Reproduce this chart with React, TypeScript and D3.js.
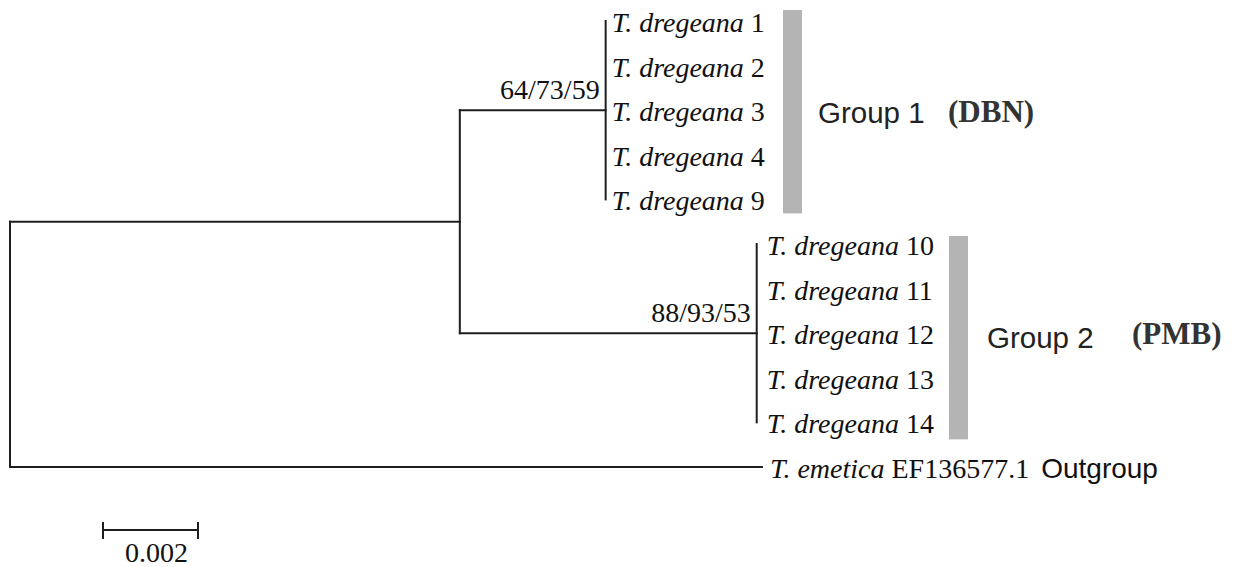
import * as d3 from "d3";
import React from "react";

// tips, top to bottom
const group1Tips = ["1", "2", "3", "4", "9"];
const group2Tips = ["10", "11", "12", "13", "14"];
const outgroupTip = "EF136577.1";

// branch lengths (substitutions/site)
const ingroupLength = 0.00947;
const group1Length = 0.00307;
const group2Length = 0.00625;
const outgroupLength = 0.01583;

const supportLabels = ["64/73/59", "88/93/53"];
const groupNames = ["Group 1", "Group 2"];
const regionNames = ["(DBN)", "(PMB)"];
const scaleBarValue = 0.002;

const width = 1236;
const height = 567;
const serif = "'Liberation Serif', 'Times New Roman', serif";
const sans = "'Liberation Sans', Arial, sans-serif";
const stroke = "#1e1e1e";

export default function App() {
  const ref = React.useRef<SVGSVGElement | null>(null);

  React.useEffect(() => {
    if (!ref.current) return;
    const svg = d3.select(ref.current);
    svg.selectAll("*").remove();

    const allTips = [...group1Tips, ...group2Tips, outgroupTip];
    const y = d3.scalePoint<string>().domain(allTips).range([21, 467]);
    const x = d3.scaleLinear().domain([0, 0.016]).range([10, 770]);

    const xRoot = x(0);
    const xIn = x(ingroupLength);
    const xG1 = x(ingroupLength + group1Length);
    const xG2 = x(ingroupLength + group2Length);
    const xOut = x(outgroupLength);

    const yG1 = d3.mean(group1Tips, (t) => y(t)!)!;
    const yG2 = d3.mean(group2Tips, (t) => y(t)!)!;
    const yIn = (yG1 + yG2) / 2;
    const yOut = y(outgroupTip)!;

    const segs: [number, number, number, number][] = [
      [xRoot, yIn, xRoot, yOut],
      [xRoot, yIn, xIn, yIn],
      [xRoot, yOut, xOut, yOut],
      [xIn, yG1, xIn, yG2],
      [xIn, yG1, xG1, yG1],
      [xIn, yG2, xG2, yG2],
      [xG1, y(group1Tips[0])!, xG1, y(group1Tips[group1Tips.length - 1])!],
      [xG2, y(group2Tips[0])!, xG2, y(group2Tips[group2Tips.length - 1])!],
    ];

    svg
      .append("g")
      .selectAll("line")
      .data(segs)
      .join("line")
      .attr("x1", (d) => d[0])
      .attr("y1", (d) => d[1])
      .attr("x2", (d) => d[2])
      .attr("y2", (d) => d[3])
      .attr("stroke", stroke)
      .attr("stroke-width", 2)
      .attr("stroke-linecap", "square");

    // tip labels
    const tipData = [
      ...group1Tips.map((t) => ({ t, x: xG1 + 6 })),
      ...group2Tips.map((t) => ({ t, x: xG2 + 10 })),
    ];
    const tips = svg
      .append("g")
      .selectAll("text")
      .data(tipData)
      .join("text")
      .attr("x", (d) => d.x)
      .attr("y", (d) => y(d.t)! + 11)
      .attr("font-family", serif)
      .attr("font-size", 28)
      .attr("fill", "#111");
    tips.append("tspan").attr("font-style", "italic").text("T. dregeana");
    tips.append("tspan").text((d) => " " + d.t);

    const out = svg
      .append("text")
      .attr("x", xOut + 8)
      .attr("y", yOut + 11)
      .attr("font-family", serif)
      .attr("font-size", 28)
      .attr("fill", "#111");
    out.append("tspan").attr("font-style", "italic").text("T. emetica");
    out.append("tspan").text(" " + outgroupTip);
    out
      .append("tspan")
      .attr("font-family", sans)
      .attr("font-size", 28)
      .attr("dx", 12)
      .text("Outgroup");

    // support values
    svg
      .append("g")
      .selectAll("text")
      .data([
        { s: supportLabels[0], x: xG1, y: yG1 },
        { s: supportLabels[1], x: xG2, y: yG2 },
      ])
      .join("text")
      .attr("x", (d) => d.x - 6)
      .attr("y", (d) => d.y - 11)
      .attr("text-anchor", "end")
      .attr("font-family", serif)
      .attr("font-size", 28)
      .attr("fill", "#111")
      .text((d) => d.s);

    // group bars and labels
    const groups = [
      { tips: group1Tips, bx: 783, top: -11, bot: 14, lx: 818, ly: 123, rx: 948, ry: 122 },
      { tips: group2Tips, bx: 949, top: -8, bot: 17, lx: 987, ly: 348, rx: 1132, ry: 344 },
    ];
    groups.forEach((g, i) => {
      const y0 = y(g.tips[0])! + g.top;
      const y1 = y(g.tips[g.tips.length - 1])! + g.bot;
      svg
        .append("rect")
        .attr("x", g.bx)
        .attr("y", y0)
        .attr("width", 19)
        .attr("height", y1 - y0)
        .attr("fill", "#b4b4b4");
      svg
        .append("text")
        .attr("x", g.lx)
        .attr("y", g.ly)
        .attr("font-family", sans)
        .attr("font-size", 29.5)
        .attr("fill", "#222")
        .text(groupNames[i]);
      svg
        .append("text")
        .attr("x", g.rx)
        .attr("y", g.ry)
        .attr("font-family", serif)
        .attr("font-weight", "bold")
        .attr("font-size", 31)
        .attr("fill", "#333")
        .text(regionNames[i]);
    });

    // scale bar
    const sx0 = 103;
    const sx1 = sx0 + (x(scaleBarValue) - x(0));
    const sy = 530;
    const bar = svg.append("g").attr("stroke", stroke).attr("stroke-width", 2);
    bar.append("line").attr("x1", sx0).attr("x2", sx1).attr("y1", sy).attr("y2", sy);
    bar.append("line").attr("x1", sx0).attr("x2", sx0).attr("y1", sy - 8).attr("y2", sy + 9);
    bar.append("line").attr("x1", sx1).attr("x2", sx1).attr("y1", sy - 8).attr("y2", sy + 9);
    svg
      .append("text")
      .attr("x", (sx0 + sx1) / 2 + 6)
      .attr("y", 562)
      .attr("text-anchor", "middle")
      .attr("font-family", serif)
      .attr("font-size", 28)
      .attr("fill", "#111")
      .text(String(scaleBarValue));
  }, []);

  return (
    <svg
      ref={ref}
      width={width}
      height={height}
      style={{ position: "absolute", left: 0, top: 0, background: "#fff" }}
    />
  );
}
